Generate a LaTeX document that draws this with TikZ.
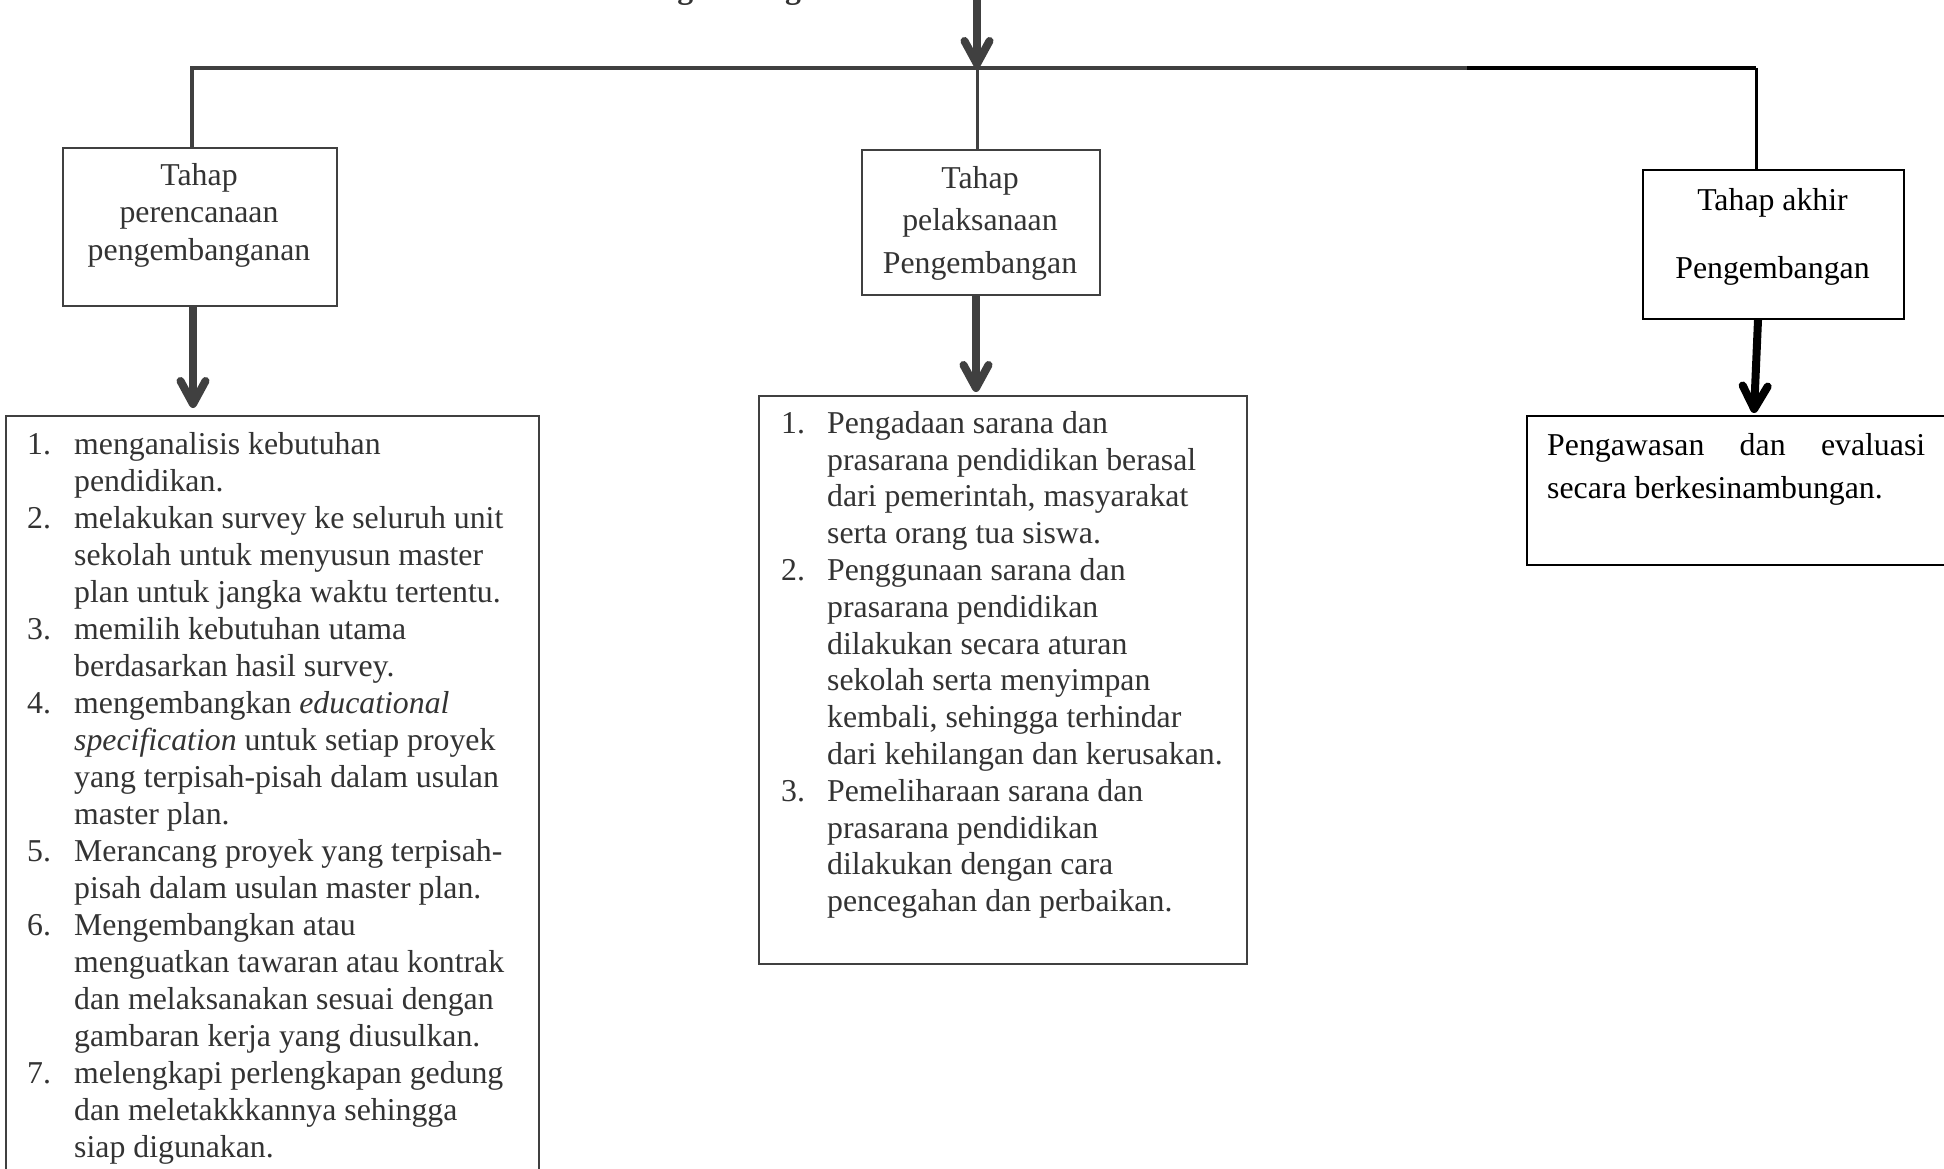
\documentclass[tikz,border=0pt]{standalone}
\usepackage{fontspec}
\setmainfont{Liberation Serif}
\usetikzlibrary{arrows.meta,calc}
\definecolor{lg}{HTML}{404040}
\definecolor{tg}{HTML}{333333}
\newcommand\fstrut{\rule{0pt}{30pt}}
\newcommand\numb[1]{\makebox[47pt][l]{#1}}
\newcommand\numm[1]{\makebox[46pt][l]{#1}}
\newcommand\indl{\hspace*{47pt}}
\newcommand\indm{\hspace*{46pt}}
\begin{document}
\begin{tikzpicture}[x=1pt,y=-1pt,
  box/.style={draw=lg, line width=2pt, inner sep=0pt, anchor=north west},
  lbl/.style={inner sep=0pt, anchor=north, align=center, text=tg},
  lst/.style={inner sep=0pt, anchor=north west, align=left, text=tg},
  arr/.style={draw=lg, line width=8pt, -{Straight Barb[length=23pt,width=25pt,round]}},
]
\useasboundingbox (0,0) rectangle (1944,1169);

% title (mostly above the page)
\node[anchor=base west, inner sep=0pt, text=tg,
      font=\fontsize{31.8}{38}\selectfont\bfseries] (title) at (626,-1.5) {Pengembangan};

% stage boxes
\node[box, minimum width=274pt, minimum height=158pt] (lbox) at (62,147) {};
\node[box, minimum width=238pt, minimum height=145pt] (mbox) at (861,149) {};
\node[box, draw=black, minimum width=261pt, minimum height=149pt] (rbox) at (1642,169) {};

\node[lbl, font=\fontsize{31.8}{37.5}\selectfont] (ltxt) at (199,155)
  {\fstrut Tahap\\perencanaan\\pengembanganan};
\node[lbl, font=\fontsize{31.8}{42.5}\selectfont] (mtxt) at (980,158)
  {\fstrut Tahap\\pelaksanaan\\Pengembangan};
\node[lbl, text=black, font=\fontsize{31.8}{68}\selectfont] (rtxt) at (1772.5,180)
  {\fstrut Tahap akhir\\Pengembangan};

% list boxes
\node[box, minimum width=533pt, minimum height=780pt] (llist) at (5,415) {};
\node[box, minimum width=488pt, minimum height=568.5pt] (mlist) at (758,394.5) {};
\node[box, draw=black, minimum width=440pt, minimum height=149pt] (rlist) at (1526,415) {};

\node[lst, font=\fontsize{31.8}{37}\selectfont] (ltext) at (27,424) {%
\fstrut\numb{1.}menganalisis kebutuhan\\
\indl pendidikan.\\
\numb{2.}melakukan survey ke seluruh unit\\
\indl sekolah untuk menyusun master\\
\indl plan untuk jangka waktu tertentu.\\
\numb{3.}memilih kebutuhan utama\\
\indl berdasarkan hasil survey.\\
\numb{4.}mengembangkan \textit{educational}\\
\indl\textit{specification} untuk setiap proyek\\
\indl yang terpisah-pisah dalam usulan\\
\indl master plan.\\
\numb{5.}Merancang proyek yang terpisah-\\
\indl pisah dalam usulan master plan.\\
\numb{6.}Mengembangkan atau\\
\indl menguatkan tawaran atau kontrak\\
\indl dan melaksanakan sesuai dengan\\
\indl gambaran kerja yang diusulkan.\\
\numb{7.}melengkapi perlengkapan gedung\\
\indl dan meletakkkannya sehingga\\
\indl siap digunakan.};

\node[lst, font=\fontsize{31.8}{36.8}\selectfont] (mtext) at (781,403) {%
\fstrut\numm{1.}Pengadaan sarana dan\\
\indm prasarana pendidikan berasal\\
\indm dari pemerintah, masyarakat\\
\indm serta orang tua siswa.\\
\numm{2.}Penggunaan sarana dan\\
\indm prasarana pendidikan\\
\indm dilakukan secara aturan\\
\indm sekolah serta menyimpan\\
\indm kembali, sehingga terhindar\\
\indm dari kehilangan dan kerusakan.\\
\numm{3.}Pemeliharaan sarana dan\\
\indm prasarana pendidikan\\
\indm dilakukan dengan cara\\
\indm pencegahan dan perbaikan.};

\node[lst, text=black, font=\fontsize{31.8}{43}\selectfont] (rtext) at (1547,425) {%
\fstrut\makebox[378pt][l]{Pengawasan\hfill dan\hfill evaluasi}\\
secara berkesinambungan.};

% connectors
\coordinate (hL) at (192,68);
\coordinate (hM) at (977,68);
\coordinate (hX) at (1467,68);
\coordinate (hR) at (1756,68);
\coordinate (tin) at (977,-10);
\coordinate (cL) at (193,0);
\coordinate (cM) at (976,0);
\coordinate (cR1) at (1758,0);
\coordinate (cR2) at (1754,0);

\draw[lg, line width=3.5pt] (lbox.north -| hL) -- (hL) -- (hX);
\draw[black, line width=4pt] (hX) -- (hR);
\draw[black, line width=3pt] (hR) -- (rbox.north -| hR);
\draw[lg, line width=3pt] (hM) -- (mbox.north -| hM);

\draw[arr] (tin) -- (hM);
\draw[arr] (lbox.south -| cL) -- ($(llist.north -| cL)+(0,-7)$);
\draw[arr] (mbox.south -| cM) -- ($(mlist.north -| cM)+(0,-2.5)$);
\draw[arr, draw=black] (rbox.south -| cR1) -- ($(rlist.north -| cR2)+(0,-2)$);
\end{tikzpicture}
\end{document}
